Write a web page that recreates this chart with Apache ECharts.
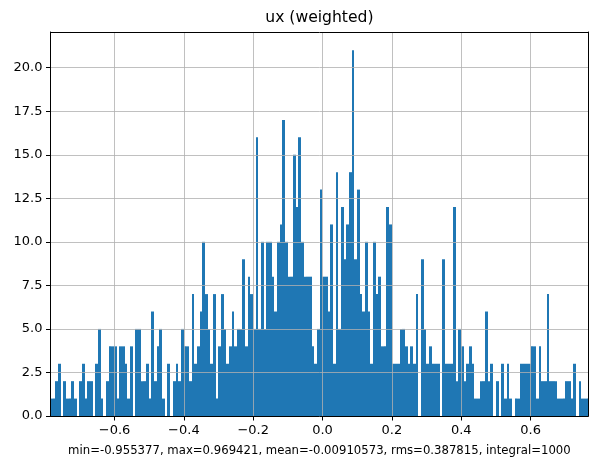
<!DOCTYPE html>
<html><head><meta charset="utf-8">
<script src="https://cdn.jsdelivr.net/npm/echarts@6/dist/echarts.min.js"></script>
<style>html,body{margin:0;padding:0;background:#fff}#c{width:598px;height:468px}</style>
</head><body><div id="c"></div>
<script>
// histogram definition (250 bins over the data range; view limited to mean ± 2 rms)
const histLo = -0.955377;
const histHi = 0.969421;
const nBins = 250;
const firstBin = 22;           // first bin visible in the view
const counts = [
  1,1,2,3,0,2,1,1,2,1,
  0,2,3,1,2,2,0,3,5,1,
  0,2,4,4,4,1,4,4,3,1,
  4,0,5,5,2,2,3,1,6,2,
  4,5,1,0,3,0,2,3,2,5,
  4,4,2,7,3,4,6,10,7,5,
  3,7,1,4,7,5,3,4,6,4,
  5,5,9,4,8,7,5,16,5,10,
  5,10,10,8,6,10,11,17,10,8,
  8,15,12,16,10,8,8,8,4,3,
  5,13,8,8,6,11,3,14,5,12,
  9,11,14,21,9,13,7,6,10,6,
  3,10,7,8,4,4,12,11,3,3,
  3,5,5,4,3,4,3,7,0,9,
  5,3,4,3,3,3,0,9,3,3,
  3,12,2,5,4,2,3,4,3,1,
  1,2,2,6,2,3,0,2,0,3,
  1,3,1,0,1,1,3,3,3,3,
  4,4,1,4,2,2,7,2,2,2,
  1,1,1,2,2,1,3,0,2,1,
  1,1
];
const viewMin = -0.78467;
const viewMax = 0.76647;
const xTicks = [-0.6, -0.4, -0.2, 0, 0.2, 0.4, 0.6];
const yTicks = [0, 2.5, 5, 7.5, 10, 12.5, 15, 17.5, 20];
const yMax = 22.05;
const titleText = 'ux (weighted)';
const statsText = 'min=-0.955377, max=0.969421, mean=-0.00910573, rms=0.387815, integral=1000';

const binW = (histHi - histLo) / nBins;
const data = counts.map((v, i) => {
  const b = firstBin + i;
  return [histLo + b * binW, histLo + (b + 1) * binW, v];
});

const fmt = v => (v < 0 ? '\u2212' : '') + Math.abs(v).toFixed(1);
const FONT = 'DejaVu Sans';

const chart = echarts.init(document.getElementById('c'), null, {renderer: 'canvas'});
const G = {left: 50.5, right: 9.7, top: 32, bottom: 52};
const plotCx = G.left + (598 - G.left - G.right) / 2;

chart.setOption({
  animation: false,
  backgroundColor: '#fff',
  grid: Object.assign({show: false, containLabel: false}, G),
  xAxis: [{
    type: 'value', min: viewMin, max: viewMax, z: 5,
    axisLine: {show: true, onZero: false, lineStyle: {color: '#000', width: 1}},
    axisTick: {show: true, length: 4.5, customValues: xTicks, lineStyle: {color: '#000', width: 1}},
    axisLabel: {customValues: xTicks, formatter: fmt, color: '#000', fontSize: 13, fontFamily: FONT, margin: 8},
    splitLine: {show: true, lineStyle: {color: '#b0b0b0', width: 0.8}}
  }, {
    type: 'value', position: 'top', min: viewMin, max: viewMax, z: 5,
    axisLine: {show: true, onZero: false, lineStyle: {color: '#000', width: 1}},
    axisTick: {show: false}, axisLabel: {show: false}, splitLine: {show: false}
  }],
  yAxis: [{
    type: 'value', min: 0, max: yMax, z: 5,
    axisLine: {show: true, onZero: false, lineStyle: {color: '#000', width: 1}},
    axisTick: {show: true, length: 4.5, customValues: yTicks, lineStyle: {color: '#000', width: 1}},
    axisLabel: {customValues: yTicks, formatter: fmt, color: '#000', fontSize: 13, fontFamily: FONT, margin: 8},
    splitLine: {show: true, lineStyle: {color: '#b0b0b0', width: 0.8}}
  }, {
    type: 'value', position: 'right', min: 0, max: yMax, z: 5,
    axisLine: {show: true, onZero: false, lineStyle: {color: '#000', width: 1}},
    axisTick: {show: false}, axisLabel: {show: false}, splitLine: {show: false}
  }],
  series: [{
    type: 'custom',
    z: 2,
    xAxisIndex: 0, yAxisIndex: 0,
    dimensions: ['lo', 'hi', 'count'],
    encode: {x: [0, 1], y: 2},
    data: data,
    renderItem: function (params, api) {
      const v = api.value(2);
      if (!v) return null;
      const p0 = api.coord([api.value(0), 0]);
      const p1 = api.coord([api.value(1), v]);
      const cs = params.coordSys;
      // snap horizontal edges to whole pixels so neighbouring bars join without seams
      const xa = Math.round(p0[0]), xb = Math.round(p1[0]);
      const shape = echarts.graphic.clipRectByRect(
        {x: xa, y: p1[1], width: xb - xa, height: p0[1] - p1[1]},
        {x: cs.x, y: cs.y, width: cs.width, height: cs.height});
      if (!shape) return null;
      return {type: 'rect', shape: shape, style: {fill: '#1f77b4'}};
    }
  }],
  graphic: [{
    type: 'text', x: plotCx, y: 18, z: 10,
    style: {text: titleText, fill: '#000', fontSize: 15.6, fontFamily: FONT, align: 'center', verticalAlign: 'middle'}
  }, {
    type: 'text', x: plotCx, y: 451, z: 10,
    style: {text: statsText, fill: '#000', fontSize: 11.7, fontFamily: FONT, align: 'center', verticalAlign: 'middle'}
  }]
});
</script>
</body></html>
